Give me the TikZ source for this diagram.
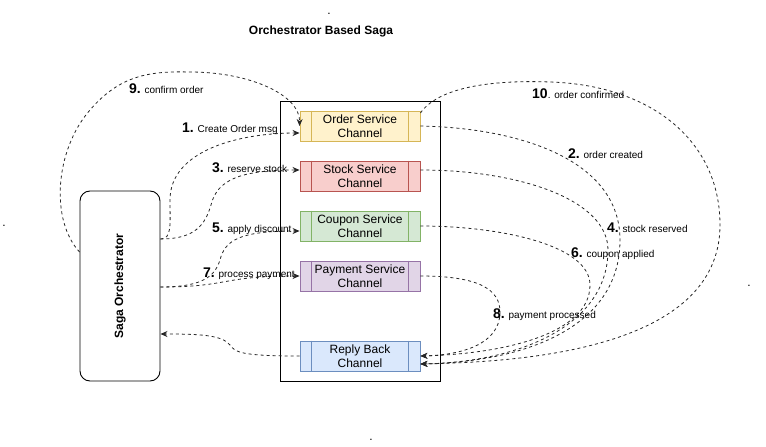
\documentclass[tikz,border=0pt]{standalone}
\usepackage{fontspec}
\setmainfont{Liberation Sans}
\usetikzlibrary{arrows.meta}
\definecolor{ordfill}{HTML}{FFF2CC}\definecolor{ordline}{HTML}{D6B656}
\definecolor{stkfill}{HTML}{F8CECC}\definecolor{stkline}{HTML}{B85450}
\definecolor{cpnfill}{HTML}{D5E8D4}\definecolor{cpnline}{HTML}{82B366}
\definecolor{payfill}{HTML}{E1D5E7}\definecolor{payline}{HTML}{9673A6}
\definecolor{repfill}{HTML}{DAE8FC}\definecolor{repline}{HTML}{6C8EBF}
\newcommand\lnum[1]{{\fontsize{14}{14}\selectfont\bfseries #1}}
\begin{document}
\begin{tikzpicture}[x=1pt,y=-1pt,
  conn/.style={draw=black!85, line width=0.8pt, dash pattern=on 3pt off 3pt, -{Stealth[length=7pt,width=6pt]}},
  chan/.style={minimum width=120pt, minimum height=30pt, inner sep=0pt, align=center, font=\fontsize{12}{14}\selectfont, line width=0.9pt},
  lbl/.style={anchor=base west, inner sep=0pt, font=\fontsize{10}{12}\selectfont},
  dotmark/.style={anchor=base, inner sep=0pt, font=\fontsize{12}{14}\selectfont}]
\useasboundingbox (0,0) rectangle (766,447);
% stray dots
\node[dotmark] (d1) at (329,14) {.};
\node[dotmark] (d2) at (4,226) {.};
\node[dotmark] (d3) at (749,286) {.};
\node[dotmark] (d4) at (371,440) {.};
% title
\node[font=\fontsize{12}{14}\selectfont\bfseries] (title) at (321,31) {Orchestrator Based Saga};
% container
\node[draw=black, line width=0.9pt, minimum width=160pt, minimum height=280pt, inner sep=0pt] (box) at (360,241) {};
% channels
\node[chan, fill=ordfill, draw=ordline] (order) at (360,126) {Order Service\\Channel};
\node[chan, fill=stkfill, draw=stkline] (stock) at (360,176) {Stock Service\\Channel};
\node[chan, fill=cpnfill, draw=cpnline] (coupon) at (360,226) {Coupon Service\\Channel};
\node[chan, fill=payfill, draw=payline] (payment) at (360,276) {Payment Service\\Channel};
\node[chan, fill=repfill, draw=repline] (reply) at (360,356) {Reply Back\\Channel};
\foreach \n/\c in {order/ordline,stock/stkline,coupon/cpnline,payment/payline,reply/repline}{
  \draw[\c, line width=0.9pt] ([xshift=12pt]\n.north west) -- ([xshift=12pt]\n.south west);
  \draw[\c, line width=0.9pt] ([xshift=-12pt]\n.north east) -- ([xshift=-12pt]\n.south east);
}
% orchestrator
\node[draw=black, line width=0.9pt, rounded corners=10pt, minimum width=80pt, minimum height=190pt, inner sep=0pt] (orch) at (120,286) {};
\node[rotate=90, font=\fontsize{12}{14}\selectfont\bfseries] (orchtxt) at (orch.center) {Saga Orchestrator};
% requests
\draw[conn] ([yshift=47pt]orch.east) .. controls (172,239) and (170,225) .. (170,200) .. controls (170,150) and (240,133) .. ([yshift=-7pt]order.west);
\draw[conn] ([yshift=47pt]orch.east) .. controls (195,239) and (205,225) .. (211,205) .. controls (217,180) and (240,170) .. ([yshift=6pt]stock.west);
\draw[conn] ([yshift=-1pt]orch.east) .. controls (205,287) and (215,275) .. (220,260) .. controls (225,240) and (240,231) .. ([yshift=-5pt]coupon.west);
\draw[conn] ([yshift=-1pt]orch.east) .. controls (230,287) and (220,276) .. (payment.west);
\draw[conn] ([yshift=34pt]orch.west) .. controls (50,220) and (55,150) .. (90,110) .. controls (120,75) and (150,71) .. (190,72) .. controls (250,72) and (300,95) .. (order.west);
% replies
\draw[conn] ([yshift=13pt]order.east) .. controls (440,85) and (500,80) .. (550,82) .. controls (650,85) and (720,140) .. (720,225) .. controls (720,350) and (520,362) .. ([yshift=-8pt]reply.east);
\draw[conn] (order.east) .. controls (520,128) and (620,160) .. (620,240) .. controls (620,330) and (520,362) .. ([yshift=-8pt]reply.east);
\draw[conn] ([yshift=6pt]stock.east) .. controls (520,170) and (608,200) .. (608,250) .. controls (608,325) and (520,362) .. ([yshift=-8pt]reply.east);
\draw[conn] (coupon.east) .. controls (500,226) and (590,245) .. (590,285) .. controls (590,335) and (500,354) .. (reply.east);
\draw[conn] (payment.east) .. controls (480,276) and (500,290) .. (500,312) .. controls (500,345) and (460,355) .. (reply.east);
\draw[conn] (reply.west) .. controls (240,356) and (235,352) .. (230,345) .. controls (222,335) and (200,334) .. ([yshift=-48pt]orch.east);
% labels
\node[lbl] (l1) at (182,132) {\lnum{1.} Create Order msg};
\node[lbl] (l3) at (212,172) {\lnum{3.} reserve stock};
\node[lbl] (l5) at (212,232) {\lnum{5.} apply discount};
\node[lbl] (l7) at (203,277) {\lnum{7.} process payment};
\node[lbl] (l9) at (129,93) {\lnum{9.} confirm order};
\node[lbl] (l10) at (532,98) {\lnum{10}. order confirmed};
\node[lbl] (l2) at (568,158) {\lnum{2.} order created};
\node[lbl] (l4) at (607,232) {\lnum{4.} stock reserved};
\node[lbl] (l6) at (571,257) {\lnum{6.} coupon applied};
\node[lbl] (l8) at (493,318) {\lnum{8.} payment processed};
\end{tikzpicture}
\end{document}
